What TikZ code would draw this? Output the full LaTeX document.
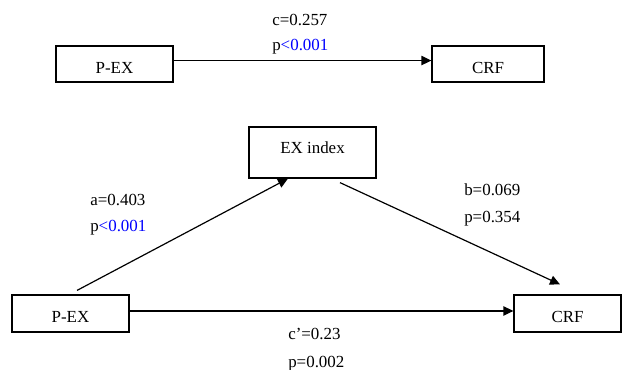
\documentclass[tikz,border=0pt]{standalone}
\usepackage{fontspec}
\setmainfont{Liberation Serif}
\usetikzlibrary{arrows.meta}
\tikzset{
  box/.style={draw=black, line width=0.9pt, inner sep=0pt, text height=13.6pt, text depth=0pt},
  lbl/.style={anchor=base west, inner sep=0pt},
  conn/.style={line width=0.9pt, -{Triangle[length=7.5pt,width=7pt]}},
}
\begin{document}
\begin{tikzpicture}[x=0.75pt, y=-0.75pt, font=\fontsize{12.7}{15}\selectfont]
\useasboundingbox (0,0) rectangle (622,369);
% top model
\node[box, minimum width=87.75pt, minimum height=27pt] (pex1) at (114.5,64) {P-EX};
\node[box, minimum width=84pt, minimum height=27pt] (crf1) at (488,64) {CRF};
\draw[conn] ([yshift=2.6pt]pex1.east) -- ([yshift=2.6pt]crf1.west);
\node[lbl] (c1) at (272,25) {c=0.257};
\node[lbl] (p1) at (272,50.7) {p\textcolor{blue}{<0.001}};
% mediation model
\node[box, minimum width=95.25pt, minimum height=38.25pt, text height=8.4pt, text depth=6.8pt] (ex) at (312.5,152.5) {EX index};
\node[box, minimum width=87.75pt, minimum height=27.75pt] (pex2) at (70.5,313.5) {P-EX};
\node[box, minimum width=80.25pt, minimum height=27.75pt] (crf2) at (567.5,313.5) {CRF};
\coordinate (a0) at ([xshift=4.9pt, yshift=3pt]pex2.north);
\coordinate (a1) at ([xshift=-18.4pt]ex.south);
\coordinate (b0) at ([xshift=20.6pt, yshift=-3pt]ex.south);
\coordinate (b1) at ([xshift=-5.6pt, yshift=7.5pt]crf2.north);
\draw[conn] (a0) -- (a1);
\draw[conn] (b0) -- (b1);
\draw[conn] ([yshift=1.9pt]pex2.east) -- ([yshift=1.9pt]crf2.west);
\node[lbl] (la) at (90,205.7) {a=0.403};
\node[lbl] (lpa) at (90,231.7) {p\textcolor{blue}{<0.001}};
\node[lbl] (lb) at (464,195) {b=0.069};
\node[lbl] (lpb) at (464,222.3) {p=0.354};
\node[lbl] (lc) at (288,339) {c’=0.23};
\node[lbl] (lpc) at (288,367) {p=0.002};
\end{tikzpicture}
\end{document}
